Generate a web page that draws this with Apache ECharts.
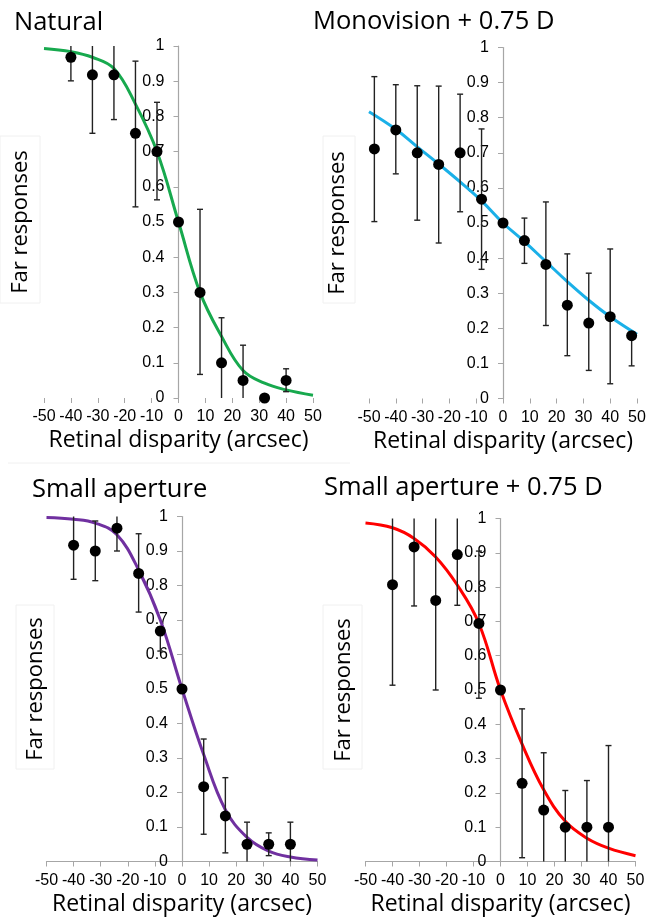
<!DOCTYPE html>
<html><head><meta charset="utf-8">
<script src="https://cdn.jsdelivr.net/npm/echarts@6/dist/echarts.min.js"></script>
<style>html,body{margin:0;padding:0;background:#fff}#c{width:646px;height:922px}</style>
</head><body><div id="c"></div>
<script>
// ---- data ----
const panelTitles = ['Natural', 'Monovision + 0.75 D', 'Small aperture', 'Small aperture + 0.75 D'];
const xTickLabels = ['-50','-40','-30','-20','-10','0','10','20','30','40','50'];
const yTickLabels = ['0','0.1','0.2','0.3','0.4','0.5','0.6','0.7','0.8','0.9','1'];

const curveX = [-50, -40, -32, -24, -16, -8, 0, 8, 16, 24, 32, 40, 50];
const curveNatural   = [0.993, 0.984, 0.968, 0.936, 0.835, 0.70, 0.50, 0.30, 0.175, 0.078, 0.042, 0.023, 0.008];
const curveMono      = [0.817, 0.767, 0.717, 0.668, 0.617, 0.563, 0.50, 0.447, 0.39, 0.333, 0.28, 0.233, 0.183];
const curveSmall     = [0.997, 0.992, 0.981, 0.947, 0.845, 0.70, 0.50, 0.31, 0.15, 0.07, 0.03, 0.013, 0.004];
const curveSmallPlus = [0.987, 0.973, 0.942, 0.888, 0.806, 0.694, 0.50, 0.342, 0.209, 0.117, 0.068, 0.039, 0.017];

const xNatural = [-40, -32, -24, -16, -8, 0, 8, 16, 24, 32, 40];
const yNatural = [0.968, 0.918, 0.918, 0.752, 0.70, 0.50, 0.30, 0.10, 0.05, 0.0, 0.05];
const loNatural = [0.901, 0.752, 0.791, 0.543, 0.563, null, 0.067, 0, 0, null, 0.018];
const hiNatural = [1, 1, 1, 0.957, 0.84, null, 0.536, 0.228, 0.15, null, 0.083];

const xMono = [-48, -40, -32, -24, -16, -8, 0, 8, 16, 24, 32, 40, 48];
const yMono = [0.711, 0.765, 0.70, 0.667, 0.70, 0.568, 0.50, 0.45, 0.382, 0.266, 0.215, 0.233, 0.179];
const loMono = [0.504, 0.64, 0.508, 0.443, 0.532, 0.368, null, 0.385, 0.208, 0.122, 0.08, 0.042, 0.093];
const hiMono = [0.917, 0.894, 0.891, 0.89, 0.867, 0.768, null, 0.514, 0.56, 0.412, 0.357, 0.426, 0.19];

const xSmall = [-40, -32, -24, -16, -8, 0, 8, 16, 24, 32, 40];
const ySmall = [0.917, 0.90, 0.966, 0.835, 0.668, 0.50, 0.217, 0.132, 0.05, 0.05, 0.05];
const loSmall = [0.818, 0.814, 0.90, 0.723, 0.61, null, 0.079, 0.025, 0, 0.017, 0];
const hiSmall = [1, 0.987, 1, 0.95, 0.68, null, 0.355, 0.243, 0.114, 0.083, 0.114];

const xSmallPlus = [-40, -32, -24, -16, -8, 0, 8, 16, 24, 32, 40];
const ySmallPlus = [0.807, 0.917, 0.761, 0.895, 0.694, 0.50, 0.228, 0.15, 0.10, 0.10, 0.10];
const loSmallPlus = [0.514, 0.745, 0.50, 0.747, 0.476, null, 0.011, 0, 0, 0, 0];
const hiSmallPlus = [1, 1, 1, 1, 0.905, null, 0.445, 0.317, 0.207, 0.236, 0.338];

// ---- layout / style ----
const panels = [
  {grid:{left:44, top:46, width:269, height:352}, color:'#17a94e', cx:curveNatural, x:xNatural, y:yNatural, lo:loNatural, hi:hiNatural, xLine:false, yGap:147, title:{left:14, top:10}},
  {grid:{left:369, top:47.5, width:268, height:351}, color:'#1ab0e8', cx:curveMono, x:xMono, y:yMono, lo:loMono, hi:hiMono, xLine:false, yGap:154, title:{left:313, top:9}},
  {grid:{left:46.5, top:516.5, width:271, height:345}, color:'#7030a0', cx:curveSmall, x:xSmall, y:ySmall, lo:loSmall, hi:hiSmall, xLine:true, yGap:135, title:{left:32, top:477}},
  {grid:{left:365.5, top:518.5, width:270, height:343}, color:'#ff0000', cx:curveSmallPlus, x:xSmallPlus, y:ySmallPlus, lo:loSmallPlus, hi:hiSmallPlus, xLine:true, yGap:146, title:{left:324, top:475}}
];

const AX = '#a6a6a6';
const tickFont = 'Liberation Sans, Arial, sans-serif';
const titleFont = 'Open Sans, Noto Sans, sans-serif';

function errRender(params, api) {
  const x = api.value(0), lo = api.value(1), hi = api.value(2);
  const pLo = api.coord([x, lo]), pHi = api.coord([x, hi]);
  const w = 3;
  const st = {stroke:'#222', lineWidth:1.4};
  const ch = [{type:'line', shape:{x1:pLo[0], y1:pLo[1], x2:pHi[0], y2:pHi[1]}, style:st}];
  if (lo > 0) ch.push({type:'line', shape:{x1:pLo[0]-w, y1:pLo[1], x2:pLo[0]+w, y2:pLo[1]}, style:st});
  if (hi < 1) ch.push({type:'line', shape:{x1:pHi[0]-w, y1:pHi[1], x2:pHi[0]+w, y2:pHi[1]}, style:st});
  return {type:'group', children:ch};
}

// Data grids (0..3) and axis grids placed at x = 0 (4..7)
const grids = [], xAxes = [], yAxes = [];
panels.forEach((p,i)=>{
  grids.push(Object.assign({containLabel:false, outerBoundsMode:'none'}, p.grid));
  xAxes.push({gridIndex:i, type:'value', min:-50, max:50, interval:10,
    axisLine:{show:p.xLine, onZero:false, lineStyle:{color:AX, width:1.2}},
    axisTick:{show:true, length:5, lineStyle:{color:AX}},
    splitLine:{show:false},
    axisLabel:{fontFamily:tickFont, fontSize:16, color:'#000', margin:11, showMinLabel:true, showMaxLabel:true,
      formatter:(v)=>xTickLabels[Math.round((v+50)/10)]},
    name:'Retinal disparity (arcsec)', nameLocation:'middle', nameGap:31,
    nameTextStyle:{fontFamily:titleFont, fontSize:23, color:'#000'}});
  yAxes.push({gridIndex:i, type:'value', min:0, max:1, interval:0.1, show:false});
});
panels.forEach((p,i)=>{
  const g = p.grid;
  grids.push({containLabel:false, outerBoundsMode:'none', left:g.left + g.width/2, top:g.top, width:g.width/2, height:g.height});
  xAxes.push({gridIndex:4+i, type:'value', min:0, max:50, show:false});
  yAxes.push({gridIndex:4+i, type:'value', min:0, max:1, interval:0.1,
    axisLine:{show:true, onZero:false, lineStyle:{color:AX, width:1.2}},
    axisTick:{show:true, length:5, lineStyle:{color:AX}},
    splitLine:{show:false},
    axisLabel:{fontFamily:tickFont, fontSize:16, color:'#000', margin:14, showMinLabel:true, showMaxLabel:true,
      formatter:(v)=>yTickLabels[Math.round(v*10)]},
    name:'Far responses', nameLocation:'middle', nameGap:p.yGap,
    nameTextStyle:{fontFamily:titleFont, fontSize:22, color:'#000'}});
});

const option = {
  backgroundColor:'#fff',
  animation:false,
  title: panels.map((p,i)=>({text:panelTitles[i], left:p.title.left, top:p.title.top, padding:0,
    textStyle:{fontFamily:titleFont, fontSize:25.5, fontWeight:'normal', color:'#000'}})),
  grid: grids,
  xAxis: xAxes,
  yAxis: yAxes,
  series: [].concat(...panels.map((p,i)=>[
    {type:'line', xAxisIndex:i, yAxisIndex:i, smooth:0.4, showSymbol:false, z:2,
      lineStyle:{color:p.color, width:3}, data:curveX.map((x,k)=>[x,p.cx[k]])},
    {type:'custom', xAxisIndex:i, yAxisIndex:i, z:3, renderItem:errRender,
      encode:{x:0, y:[1,2]},
      data:p.x.map((x,k)=>[x,p.lo[k],p.hi[k]]).filter(d=>d[1]!=null)},
    {type:'scatter', xAxisIndex:i, yAxisIndex:i, z:4, symbolSize:11,
      itemStyle:{color:'#000', opacity:1}, data:p.x.map((x,k)=>[x,p.y[k]])}
  ])),
  graphic: [
    {type:'rect', shape:{x:0, y:136, width:40, height:167}, style:{fill:null, stroke:'#f0f0f0', lineWidth:1}, silent:true, z:-1},
    {type:'rect', shape:{x:323, y:136, width:32, height:167}, style:{fill:null, stroke:'#f0f0f0', lineWidth:1}, silent:true, z:-1},
    {type:'rect', shape:{x:16, y:605, width:38, height:164}, style:{fill:null, stroke:'#f0f0f0', lineWidth:1}, silent:true, z:-1},
    {type:'rect', shape:{x:323, y:605, width:39, height:164}, style:{fill:null, stroke:'#f0f0f0', lineWidth:1}, silent:true, z:-1},
    {type:'line', shape:{x1:8, y1:463, x2:350, y2:463}, style:{stroke:'#f0f0f0', lineWidth:1}, silent:true, z:-1}
  ]
};

const chart = echarts.init(document.getElementById('c'), null, {renderer:'canvas'});
chart.setOption(option);
</script></body></html>
